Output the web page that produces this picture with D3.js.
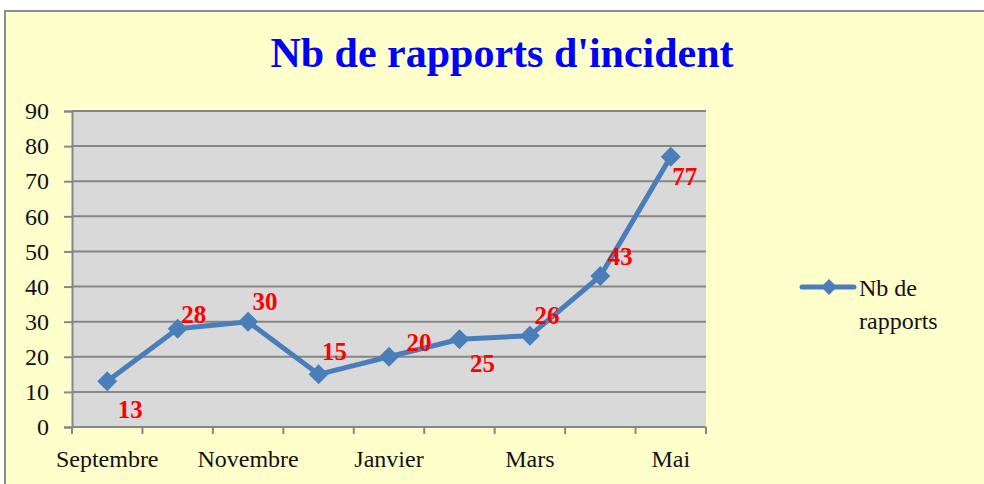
<!DOCTYPE html>
<meta charset="UTF-8">
<style>
body { margin: 0; background: #fff; }
text { font-family: "Liberation Serif", "Times New Roman", serif; }
</style>
<body>
<script src="https://d3js.org/d3.v7.min.js"></script>
<script>

// data
var months = ["Septembre", "Octobre", "Novembre", "Décembre", "Janvier", "Février", "Mars", "Avril", "Mai"];
var counts = [13, 28, 30, 15, 20, 25, 26, 43, 77];
var yTicks = [0, 10, 20, 30, 40, 50, 60, 70, 80, 90];
var shownMonths = ["Septembre", "Novembre", "Janvier", "Mars", "Mai"];
var seriesName = ["Nb de", "rapports"];

// where each value label sits relative to its point
var labelOffsets = [[23, 37], [16, -6], [17, -12], [16, -14], [30, -6], [23, 33], [17, -12], [20, -11], [14, 28]];

var W = 984, H = 484;
var margin = {top: 111, right: 278, bottom: 57, left: 72};

var svg = d3.select("body").append("svg")
    .attr("width", W)
    .attr("height", H);

// chart area
svg.append("rect")
    .attr("x", 5).attr("y", 11)
    .attr("width", W + 20).attr("height", H + 20)
    .attr("fill", "#ffffcc")
    .attr("stroke", "#8c8c8c")
    .attr("stroke-width", 2);

svg.append("text")
    .attr("x", 502).attr("y", 67)
    .attr("text-anchor", "middle")
    .style("font-size", "42px")
    .style("font-weight", "bold")
    .attr("fill", "#0000ff")
    .text("Nb de rapports d'incident");

var x = d3.scaleBand().domain(months).range([margin.left, W - margin.right]);
var y = d3.scaleLinear().domain([0, 90]).range([H - margin.bottom, margin.top]);

// plot area
svg.append("rect")
    .attr("x", x.range()[0]).attr("y", y(90))
    .attr("width", x.range()[1] - x.range()[0])
    .attr("height", y(0) - y(90))
    .attr("fill", "#d9d9d9");

// gridlines
svg.append("g").selectAll("line")
    .data(yTicks.slice(1))
    .enter().append("line")
    .attr("x1", x.range()[0]).attr("x2", x.range()[1])
    .attr("y1", function(d) { return y(d); })
    .attr("y2", function(d) { return y(d); })
    .attr("stroke", "#868686")
    .attr("stroke-width", 2);

// y axis
var yAxis = svg.append("g")
    .attr("transform", "translate(" + margin.left + ",0)")
    .call(d3.axisLeft(y).tickValues(yTicks).tickSize(8).tickPadding(15));
yAxis.select(".domain").attr("stroke", "#868686").attr("stroke-width", 2);
yAxis.selectAll(".tick line").attr("stroke", "#868686").attr("stroke-width", 2);
yAxis.selectAll(".tick text")
    .style("font-size", "24px")
    .attr("fill", "#111");

// x axis: ticks on category boundaries
var xg = svg.append("g");
xg.append("line")
    .attr("x1", x.range()[0]).attr("x2", x.range()[1])
    .attr("y1", y(0)).attr("y2", y(0))
    .attr("stroke", "#868686").attr("stroke-width", 2);
xg.selectAll("line.tk")
    .data(months.concat(["end"]))
    .enter().append("line")
    .attr("class", "tk")
    .attr("x1", function(d, i) { return x.range()[0] + i * x.step(); })
    .attr("x2", function(d, i) { return x.range()[0] + i * x.step(); })
    .attr("y1", y(0)).attr("y2", y(0) + 7)
    .attr("stroke", "#868686").attr("stroke-width", 2);
xg.selectAll("text")
    .data(shownMonths)
    .enter().append("text")
    .attr("x", function(d) { return x(d) + x.bandwidth() / 2; })
    .attr("y", y(0) + 40)
    .attr("text-anchor", "middle")
    .style("font-size", "24px")
    .attr("fill", "#111")
    .text(function(d) { return d; });

// line
var line = d3.line()
    .x(function(d, i) { return x(months[i]) + x.bandwidth() / 2; })
    .y(function(d) { return y(d); });

svg.append("path")
    .datum(counts)
    .attr("d", line)
    .attr("fill", "none")
    .attr("stroke", "#4a7ebb")
    .attr("stroke-width", 5)
    .attr("stroke-linejoin", "round");

var diamond = "M0,-10L10,0L0,10L-10,0Z";

svg.append("g").selectAll("path")
    .data(counts)
    .enter().append("path")
    .attr("d", diamond)
    .attr("transform", function(d, i) {
        return "translate(" + (x(months[i]) + x.bandwidth() / 2) + "," + y(d) + ")";
    })
    .attr("fill", "#4a7ebb");

// value labels
svg.append("g").selectAll("text")
    .data(counts)
    .enter().append("text")
    .attr("x", function(d, i) { return x(months[i]) + x.bandwidth() / 2 + labelOffsets[i][0]; })
    .attr("y", function(d, i) { return y(d) + labelOffsets[i][1]; })
    .attr("text-anchor", "middle")
    .style("font-size", "25px")
    .style("font-weight", "bold")
    .attr("fill", "#ff0000")
    .text(function(d) { return d; });

// legend
var lg = svg.append("g").attr("transform", "translate(802,287)");
lg.append("line")
    .attr("x1", 0).attr("x2", 52).attr("y1", 0).attr("y2", 0)
    .attr("stroke", "#4a7ebb").attr("stroke-width", 5)
    .attr("stroke-linecap", "round");
lg.append("path")
    .attr("d", "M0,-8L8,0L0,8L-8,0Z")
    .attr("transform", "translate(27,0)")
    .attr("fill", "#4a7ebb");
lg.selectAll("text")
    .data(seriesName)
    .enter().append("text")
    .attr("x", 57)
    .attr("y", function(d, i) { return 9 + i * 33; })
    .style("font-size", "24px")
    .attr("fill", "#111")
    .text(function(d) { return d; });

</script>
</body>
